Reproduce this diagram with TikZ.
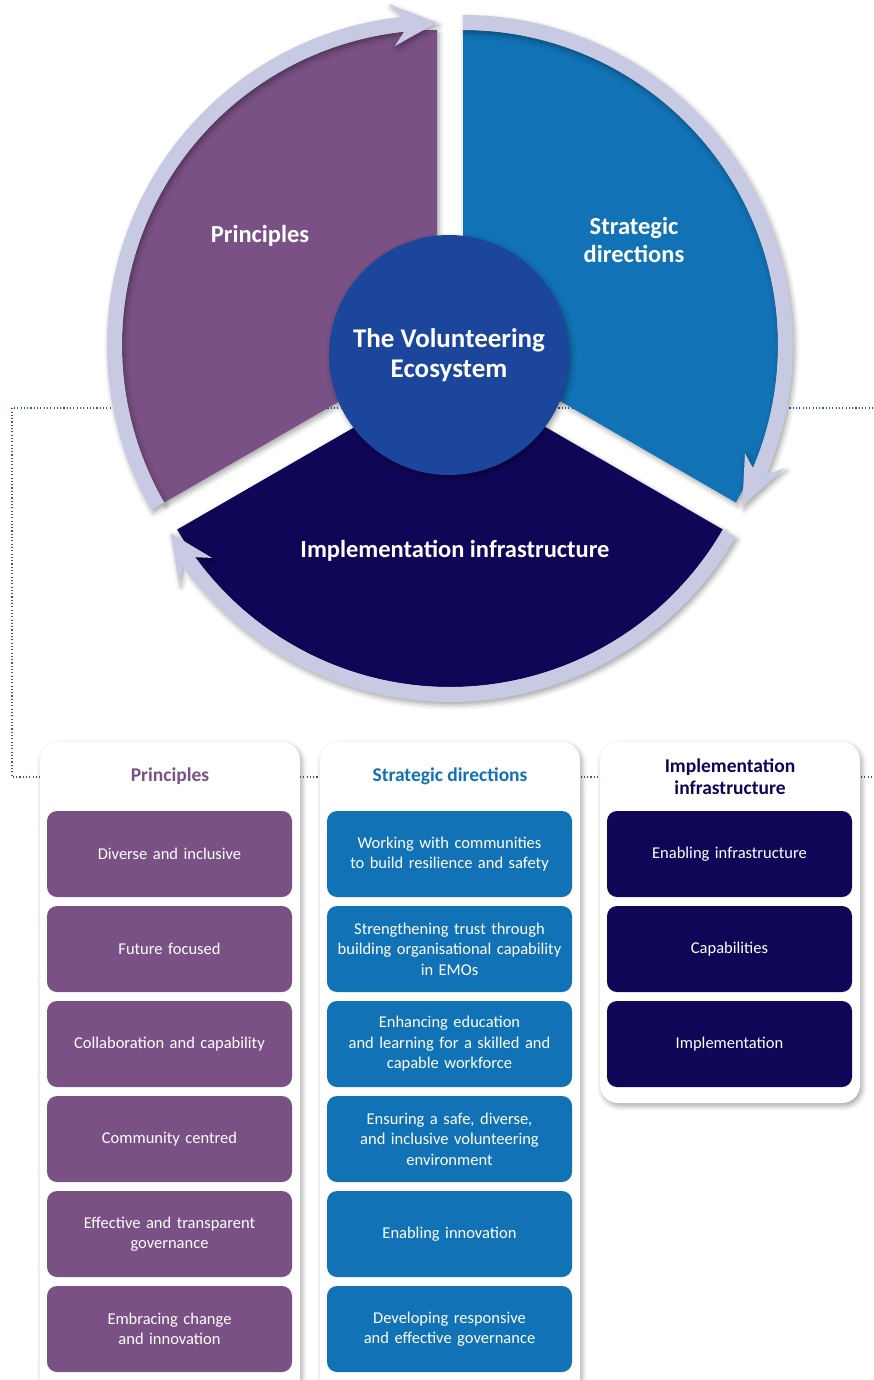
\documentclass[tikz,border=0pt]{standalone}
\usepackage{fontspec}
\setmainfont{Carlito}
\usetikzlibrary{positioning,shadows.blur}
\definecolor{vepurple}{RGB}{122,81,133}
\definecolor{veblue}{RGB}{17,114,181}
\definecolor{venavy}{RGB}{16,6,88}
\definecolor{vecore}{RGB}{28,70,156}
\definecolor{vering}{RGB}{200,201,227}
\definecolor{vedots}{RGB}{45,85,180}

\begin{document}
\begin{tikzpicture}[x=1pt,y=1pt,
  soft/.style={blur shadow={shadow xshift=2pt,shadow yshift=-3pt,shadow blur radius=5pt,shadow opacity=35}},
  panel/.style={fill=white,rounded corners=18pt,soft},
  item/.style={rounded corners=10pt,minimum width=245pt,minimum height=86pt,text width=235pt,align=center,text=white,font=\fontsize{16.5}{20.5}\selectfont,inner sep=0pt},
  heading/.style={font=\bfseries\fontsize{19.5}{22}\selectfont,align=center},
  sector/.style={font=\bfseries\fontsize{24.5}{28}\selectfont,text=white,align=center}]
\useasboundingbox (0,0) rectangle (873,-1380);

% Dotted guide (runs behind the wheel and the panels)
\coordinate (gtr) at (873,-408);
\coordinate (gtl) at (12,-408);
\coordinate (gbl) at (12,-777);
\coordinate (gbr) at (873,-777);
\draw[vedots, line width=1.1pt, dash pattern=on 1.1pt off 2.2pt] (gtr) -- (gtl) -- (gbl) -- (gbr);

% Principles sector
\begin{scope}[shift={(437,-345)}]
\fill[vepurple,soft] (0,0) -- (90:315) arc[start angle=90,end angle=210,radius=315] -- cycle;
\fill[vering,soft] (210:330) arc[start angle=210,end angle=96,radius=330] -- (98:344) -- (90:322.5) -- (98:302) -- (96:315) arc[start angle=96,end angle=210,radius=315] -- cycle;
\end{scope}
% Strategic directions sector
\begin{scope}[shift={(463,-345)}]
\fill[veblue,soft] (0,0) -- (90:315) arc[start angle=90,end angle=-30,radius=315] -- cycle;
\fill[vering,soft] (90:330) arc[start angle=90,end angle=-23,radius=330] -- (-21:344) -- (-30:322.5) -- (-21:302) -- (-23:315) arc[start angle=-23,end angle=90,radius=315] -- cycle;
\end{scope}
% Implementation infrastructure sector
\begin{scope}[shift={(450,-372)}]
\fill[venavy,soft] (0,0) -- (330:315) arc[start angle=330,end angle=210,radius=315] -- cycle;
\fill[vering,soft] (330:330) arc[start angle=330,end angle=216,radius=330] -- (218:344) -- (210:322.5) -- (218:302) -- (216:315) arc[start angle=216,end angle=330,radius=315] -- cycle;
\end{scope}

% Hub and sector labels
\node[circle, fill=vecore, minimum size=240pt, inner sep=0pt, soft, text=white, align=center, font=\bfseries\fontsize{27}{30}\selectfont] (eco) at (449,-355) {The Volunteering\\Ecosystem};
\node[sector] (lprin) at (260,-236) {Principles};
\node[sector] (ldir) at (634,-240) {Strategic\\directions};
\node[sector] (linfra) at (455,-551) {Implementation infrastructure};

% Panels
\fill[panel] (40,-742) rectangle (300,-1410);
\fill[panel] (320,-742) rectangle (580,-1410);
\fill[panel] (600,-742) rectangle (860,-1103);

% Principles column
\node[heading, text=vepurple] (hprin) at (170,-776) {Principles};
\node[item, fill=vepurple] (p1) at (169.5,-854) {Diverse and inclusive};
\node[item, fill=vepurple] (p2) at (169.5,-949) {Future focused};
\node[item, fill=vepurple] (p3) at (169.5,-1044) {Collaboration and capability};
\node[item, fill=vepurple] (p4) at (169.5,-1139) {Community centred};
\node[item, fill=vepurple] (p5) at (169.5,-1234) {Effective and transparent\\governance};
\node[item, fill=vepurple] (p6) at (169.5,-1329) {Embracing change\\and innovation};

% Strategic directions column
\node[heading, text=veblue] (hdir) at (450,-776) {Strategic directions};
\node[item, fill=veblue] (s1) at (449.5,-854) {Working with communities\\to build resilience and safety};
\node[item, fill=veblue] (s2) at (449.5,-949) {Strengthening trust through\\building organisational capability\\in EMOs};
\node[item, fill=veblue] (s3) at (449.5,-1044) {Enhancing education\\and learning for a skilled and\\capable workforce};
\node[item, fill=veblue] (s4) at (449.5,-1139) {Ensuring a safe, diverse,\\and inclusive volunteering\\environment};
\node[item, fill=veblue] (s5) at (449.5,-1234) {Enabling innovation};
\node[item, fill=veblue] (s6) at (449.5,-1329) {Developing responsive\\and effective governance};

% Implementation infrastructure column
\node[heading, text=venavy] (hinfra) at (730,-777) {Implementation\\infrastructure};
\node[item, fill=venavy] (i1) at (729.5,-854) {Enabling infrastructure};
\node[item, fill=venavy] (i2) at (729.5,-949) {Capabilities};
\node[item, fill=venavy] (i3) at (729.5,-1044) {Implementation};
\end{tikzpicture}
\end{document}
